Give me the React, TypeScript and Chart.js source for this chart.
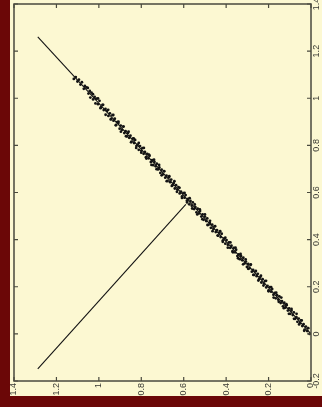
import { useEffect, useRef } from "react";
import { Chart, registerables } from "chart.js";

Chart.register(...registerables);

// Horizontal axis (bottom, runs 1.4 → 0 from left to right)
const hTickValues = [0, 0.2, 0.4, 0.6, 0.8, 1, 1.2, 1.4];
const hTickLabels = ["0", "0.2", "0.4", "0.6", "0.8", "1", "1.2", "1.4"];

// Vertical axis (right side)
const vTickValues = [-0.2, 0, 0.2, 0.4, 0.6, 0.8, 1, 1.2, 1.4];
const vTickLabels = ["-0.2", "0", "0.2", "0.4", "0.6", "0.8", "1", "1.2", "1.4"];

// Sample cloud along the main direction (core of the band)
const scatterH = [
  1.118, 1.109, 1.101, 1.094, 1.087, 1.08, 1.071, 1.066, 1.058, 1.049, 1.043, 1.035,
  1.027, 1.02, 1.012, 1.004, 0.997, 0.99, 0.983, 0.977, 0.969, 0.962, 0.955, 0.948,
  0.942, 0.936, 0.931, 0.925, 0.919, 0.914, 0.908, 0.902, 0.897, 0.891, 0.885, 0.88,
  0.874, 0.868, 0.863, 0.857, 0.851, 0.846, 0.84, 0.834, 0.829, 0.823, 0.817, 0.812,
  0.806, 0.8, 0.795, 0.789, 0.783, 0.778, 0.772, 0.766, 0.761, 0.755, 0.749, 0.744,
  0.738, 0.732, 0.727, 0.721, 0.715, 0.71, 0.704, 0.698, 0.693, 0.687, 0.681, 0.676,
  0.67, 0.664, 0.659, 0.653, 0.647, 0.642, 0.636, 0.63, 0.625, 0.619, 0.613, 0.608,
  0.602, 0.596, 0.591, 0.585, 0.579, 0.574, 0.568, 0.562, 0.557, 0.551, 0.545, 0.54,
  0.534, 0.528, 0.523, 0.517, 0.511, 0.506, 0.5, 0.494, 0.489, 0.483, 0.477, 0.472,
  0.466, 0.46, 0.455, 0.449, 0.443, 0.438, 0.432, 0.426, 0.421, 0.415, 0.409, 0.404,
  0.398, 0.392, 0.387, 0.381, 0.375, 0.37, 0.364, 0.358, 0.353, 0.347, 0.341, 0.336,
  0.33, 0.324, 0.319, 0.313, 0.307, 0.302, 0.296, 0.29, 0.285, 0.279, 0.273, 0.268,
  0.262, 0.256, 0.251, 0.245, 0.239, 0.234, 0.228, 0.222, 0.217, 0.211, 0.205, 0.2,
  0.194, 0.188, 0.183, 0.177, 0.171, 0.166, 0.16, 0.154, 0.149, 0.143, 0.137, 0.132,
  0.126, 0.12, 0.115, 0.109, 0.103, 0.098, 0.092, 0.086, 0.081, 0.075, 0.069, 0.064,
  0.058, 0.052, 0.047, 0.041, 0.035, 0.03, 0.024, 0.018, 0.013, 0.007,
];
const scatterV = [
  1.082, 1.09, 1.071, 1.079, 1.058, 1.068, 1.04, 1.052, 1.046, 1.02, 1.031, 1.024,
  0.995, 1.006, 0.998, 0.975, 0.989, 0.962, 0.972, 0.95, 0.955, 0.946, 0.925, 0.936,
  0.912, 0.928, 0.905, 0.913, 0.887, 0.899, 0.895, 0.871, 0.884, 0.866, 0.88, 0.852,
  0.86, 0.838, 0.853, 0.832, 0.841, 0.816, 0.829, 0.81, 0.823, 0.797, 0.803, 0.781,
  0.797, 0.777, 0.788, 0.764, 0.772, 0.75, 0.764, 0.745, 0.756, 0.729, 0.737, 0.716,
  0.73, 0.711, 0.722, 0.698, 0.706, 0.683, 0.697, 0.677, 0.691, 0.663, 0.671, 0.649,
  0.664, 0.644, 0.655, 0.631, 0.64, 0.617, 0.631, 0.612, 0.623, 0.596, 0.604, 0.583,
  0.597, 0.578, 0.589, 0.565, 0.573, 0.55, 0.564, 0.544, 0.558, 0.53, 0.538, 0.516,
  0.531, 0.511, 0.521, 0.498, 0.507, 0.484, 0.498, 0.479, 0.49, 0.463, 0.471, 0.45,
  0.464, 0.445, 0.456, 0.432, 0.44, 0.417, 0.43, 0.411, 0.425, 0.397, 0.405, 0.383,
  0.398, 0.378, 0.388, 0.365, 0.374, 0.351, 0.365, 0.346, 0.357, 0.33, 0.337, 0.317,
  0.331, 0.312, 0.323, 0.299, 0.307, 0.284, 0.297, 0.278, 0.292, 0.264, 0.272, 0.25,
  0.265, 0.245, 0.255, 0.232, 0.241, 0.218, 0.232, 0.213, 0.224, 0.197, 0.204, 0.184,
  0.198, 0.179, 0.19, 0.166, 0.174, 0.151, 0.164, 0.145, 0.159, 0.131, 0.139, 0.117,
  0.132, 0.112, 0.122, 0.099, 0.108, 0.085, 0.099, 0.08, 0.091, 0.064, 0.071, 0.051,
  0.065, 0.046, 0.057, 0.033, 0.041, 0.018, 0.031, 0.012, 0.024, 0.0,
];

// Outer samples that widen the band
const scatterH2 = [
  1.052, 1.04, 1.028, 1.016, 1.004, 0.992, 0.98, 0.968, 0.956, 0.944, 0.932, 0.92,
  0.908, 0.896, 0.884, 0.872, 0.86, 0.848, 0.836, 0.824, 0.812, 0.8, 0.788, 0.776,
  0.764, 0.752, 0.74, 0.728, 0.716, 0.704, 0.692, 0.68, 0.668, 0.656, 0.644, 0.632,
  0.62, 0.608, 0.596, 0.584, 0.572, 0.56, 0.548, 0.536, 0.524, 0.512, 0.5, 0.488,
  0.476, 0.464, 0.452, 0.44, 0.428, 0.416, 0.404, 0.392, 0.38, 0.368, 0.356, 0.344,
  0.332, 0.32, 0.308, 0.296, 0.284, 0.272, 0.26, 0.248, 0.236, 0.224, 0.212, 0.2,
  0.188, 0.176, 0.164, 0.152, 0.14, 0.128, 0.116, 0.104, 0.092, 0.08, 0.068, 0.056,
  0.044, 0.032,
];
const scatterV2 = [
  1.044, 1.003, 1.017, 0.978, 0.999, 0.958, 0.972, 0.93, 0.951, 0.91, 0.929, 0.885,
  0.901, 0.858, 0.88, 0.839, 0.858, 0.813, 0.83, 0.789, 0.81, 0.769, 0.789, 0.744,
  0.761, 0.717, 0.739, 0.699, 0.717, 0.673, 0.69, 0.648, 0.669, 0.628, 0.648, 0.603,
  0.62, 0.577, 0.598, 0.558, 0.576, 0.532, 0.549, 0.507, 0.528, 0.487, 0.507, 0.462,
  0.48, 0.436, 0.457, 0.417, 0.436, 0.391, 0.408, 0.366, 0.388, 0.346, 0.366, 0.321,
  0.339, 0.295, 0.316, 0.276, 0.295, 0.25, 0.267, 0.226, 0.247, 0.205, 0.225, 0.181,
  0.198, 0.154, 0.175, 0.136, 0.154, 0.109, 0.126, 0.085, 0.106, 0.064, 0.085, 0.04,
  0.057, 0.013,
];

// Principal direction line
const mainLineH = [0, 1.288];
const mainLineV = [0, 1.26];

// Projection segment from an outlying point onto the main line
const projLineH = [1.288, 0.59];
const projLineV = [-0.149, 0.55];

const PANEL = "#fcf8d2";
const BORDER = "#6b0707";
const FRAME = "#4a4a3e";
const LABEL = "#3a3a34";
const INK = "#141414";
const FONT = { family: "'Liberation Sans', Arial, sans-serif", size: 9 };

const toPoints = (hs: number[], vs: number[]) => hs.map((h, i) => ({ x: h, y: vs[i] }));

const framePlugin = {
  id: "frame",
  afterDraw(chart: any) {
    const { ctx, chartArea: a, scales } = chart;
    const xs = scales.x;
    const ys = scales.y;
    ctx.save();
    ctx.strokeStyle = FRAME;
    ctx.lineWidth = 1.5;
    ctx.strokeRect(a.left, a.top, a.right - a.left, a.bottom - a.top);
    ctx.lineWidth = 1.2;
    ctx.beginPath();
    for (const t of xs.ticks) {
      const p = xs.getPixelForValue(t.value);
      ctx.moveTo(p, a.bottom);
      ctx.lineTo(p, a.bottom - 4);
      ctx.moveTo(p, a.top);
      ctx.lineTo(p, a.top + 4);
    }
    for (const t of ys.ticks) {
      const p = ys.getPixelForValue(t.value);
      ctx.moveTo(a.left, p);
      ctx.lineTo(a.left + 4, p);
      ctx.moveTo(a.right, p);
      ctx.lineTo(a.right - 4, p);
    }
    ctx.stroke();
    ctx.restore();
  },
};

export default function App() {
  const ref = useRef<HTMLCanvasElement>(null);

  useEffect(() => {
    const dots = {
      showLine: false,
      pointRadius: 1.4,
      pointBorderWidth: 0,
      backgroundColor: INK,
      borderColor: INK,
    };
    const chart = new Chart(ref.current!, {
      type: "scatter",
      data: {
        datasets: [
          {
            data: toPoints(mainLineH, mainLineV),
            showLine: true,
            borderColor: INK,
            borderWidth: 1.1,
            pointRadius: 0,
          },
          {
            data: toPoints(projLineH, projLineV),
            showLine: true,
            borderColor: INK,
            borderWidth: 1.1,
            pointRadius: 0,
          },
          { data: toPoints(scatterH, scatterV), ...dots },
          { data: toPoints(scatterH2, scatterV2), ...dots },
        ],
      },
      options: {
        responsive: false,
        animation: false,
        devicePixelRatio: 1,
        layout: { padding: { left: 3, top: 2, right: 0, bottom: 0 } },
        plugins: { legend: { display: false }, tooltip: { enabled: false } },
        scales: {
          x: {
            type: "linear",
            position: "bottom",
            reverse: true,
            min: 0,
            max: 1.4,
            afterBuildTicks: (s: any) => {
              s.ticks = hTickValues.map((v) => ({ value: v }));
            },
            afterFit: (s: any) => {
              s.height = 15;
            },
            grid: { display: false, drawTicks: false },
            border: { display: false },
            ticks: {
              autoSkip: false,
              minRotation: 90,
              maxRotation: 90,
              padding: 2,
              color: LABEL,
              font: FONT,
              callback: (v: any) => hTickLabels[hTickValues.indexOf(Number(v))] ?? "",
            },
          },
          y: {
            type: "linear",
            position: "right",
            min: -0.2,
            max: 1.4,
            afterBuildTicks: (s: any) => {
              s.ticks = vTickValues.map((v) => ({ value: v }));
            },
            afterFit: (s: any) => {
              s.width = 11;
            },
            grid: { display: false, drawTicks: false },
            border: { display: false },
            ticks: {
              autoSkip: false,
              minRotation: 90,
              maxRotation: 90,
              crossAlign: "center",
              padding: -2,
              color: LABEL,
              font: FONT,
              callback: (v: any) => vTickLabels[vTickValues.indexOf(Number(v))] ?? "",
            },
          },
        },
      },
      plugins: [framePlugin],
    } as any);
    return () => chart.destroy();
  }, []);

  return (
    <div
      style={{
        position: "fixed",
        left: 0,
        top: 0,
        width: 322,
        height: 407,
        background: BORDER,
      }}
    >
      <canvas
        ref={ref}
        width={312}
        height={396}
        style={{ position: "absolute", left: 10, top: 0, width: 312, height: 396, background: PANEL }}
      />
    </div>
  );
}
